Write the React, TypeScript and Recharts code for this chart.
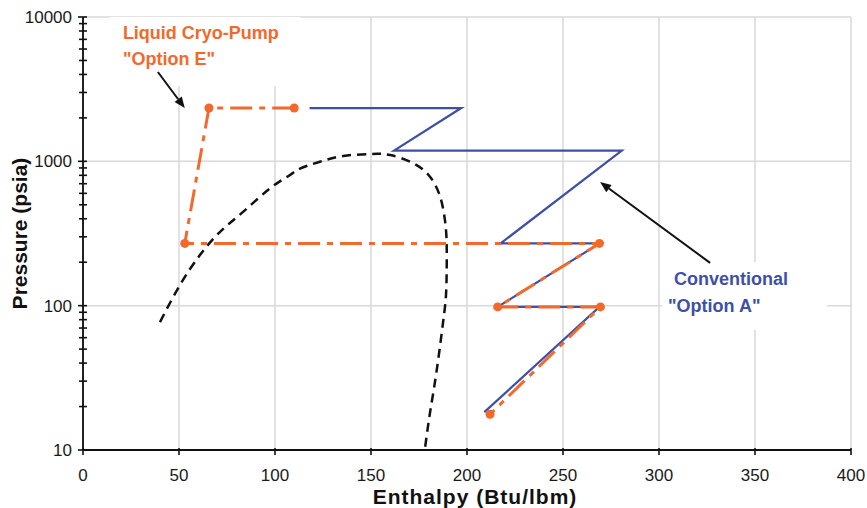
import { LineChart, Line, XAxis, YAxis, CartesianGrid, ReferenceArea, ReferenceLine } from 'recharts';

const BLUE = '#3d50a6';
const ORANGE = '#f2692b';

const enthalpyTicks = [0, 50, 100, 150, 200, 250, 300, 350, 400];
const pressureTicks = [
  10, 20, 30, 40, 50, 60, 70, 80, 90,
  100, 200, 300, 400, 500, 600, 700, 800, 900,
  1000, 2000, 3000, 4000, 5000, 6000, 7000, 8000, 9000, 10000,
];
const pressureLabels = [10, 100, 1000, 10000];

// saturation dome
const saturationDome = [
  { h: 40.1, p: 77 }, { h: 50.5, p: 139 }, { h: 60.9, p: 224 }, { h: 71.4, p: 325 },
  { h: 83.5, p: 448 }, { h: 97.4, p: 650 }, { h: 107.8, p: 804 }, { h: 113, p: 890 },
  { h: 123.4, p: 994 }, { h: 135.6, p: 1089 }, { h: 149.5, p: 1124 }, { h: 160, p: 1106 },
  { h: 172, p: 969 }, { h: 180.7, p: 783 }, { h: 186, p: 569 }, { h: 188.5, p: 392 },
  { h: 189.4, p: 272 }, { h: 189.4, p: 167 }, { h: 189, p: 115 }, { h: 187.5, p: 76 },
  { h: 184, p: 34 }, { h: 180.7, p: 18 }, { h: 178, p: 10 },
];

// Conventional "Option A"
const optionA = [
  { h: 118, p: 2340 }, { h: 197, p: 2340 }, { h: 162, p: 1186 }, { h: 280.6, p: 1186 },
  { h: 217.5, p: 270 }, { h: 269, p: 270 }, { h: 216, p: 98 }, { h: 269, p: 98 },
  { h: 209, p: 18.3 },
];

// Liquid Cryo-Pump "Option E"
const optionE = [
  { h: 110, p: 2340 }, { h: 65.6, p: 2340 }, { h: 53, p: 270 }, { h: 269, p: 270 },
  { h: 216, p: 98 }, { h: 269.5, p: 98 }, { h: 212, p: 17.7 },
];

const pumpArrow = [{ x: 39, y: 4160 }, { x: 53, y: 2340 }];
const conventionalArrow = [{ x: 326.6, y: 198 }, { x: 269.3, y: 719 }];

const pumpNote = ['Liquid Cryo-Pump', '"Option E"'];
const conventionalNote = ['Conventional', '"Option A"'];

const FONT = '"Liberation Sans", Arial, sans-serif';

function renderYTick(props: any) {
  const { x, y, payload } = props;
  const major = pressureLabels.includes(payload.value);
  return (
    <g key={`y-${payload.value}`}>
      <line x1={x - (major ? 5 : 4)} x2={x + 4} y1={y} y2={y} stroke="#111" strokeWidth={1.6} />
      {major && (
        <text x={x - 11} y={y + 6} textAnchor="end" fontSize={17} fill="#1a1a1a" fontFamily={FONT}>
          {payload.value}
        </text>
      )}
    </g>
  );
}

function renderXTick(props: any) {
  const { x, y, payload } = props;
  return (
    <g key={`x-${payload.value}`}>
      <line x1={x} x2={x} y1={y - 2} y2={y + 5} stroke="#111" strokeWidth={1.6} />
      <text x={x} y={y + 31} textAnchor="middle" fontSize={17} fill="#1a1a1a" fontFamily={FONT}>
        {payload.value}
      </text>
    </g>
  );
}

function Arrow(props: any) {
  const { x1, y1, x2, y2 } = props;
  const ang = Math.atan2(y2 - y1, x2 - x1);
  const len = 11;
  const half = 4.5;
  const bx = x2 - len * Math.cos(ang);
  const by = y2 - len * Math.sin(ang);
  const pts = `${x2},${y2} ${bx + half * Math.sin(ang)},${by - half * Math.cos(ang)} ${bx - half * Math.sin(ang)},${by + half * Math.cos(ang)}`;
  return (
    <g>
      <line x1={x1} y1={y1} x2={bx} y2={by} stroke="#111" strokeWidth={2} />
      <polygon points={pts} fill="#111" />
    </g>
  );
}

const noteLabel = (lines: string[], color: string, dx: number[], dy: number, gap: number) =>
  (props: any) => {
    const { x, y } = props.viewBox;
    return (
      <text fill={color} fontSize={18} fontWeight="bold" fontFamily={FONT}>
        {lines.map((l, i) => (
          <tspan key={i} x={x + dx[i]} y={y + dy + i * gap}>{l}</tspan>
        ))}
      </text>
    );
  };

export default function App() {
  return (
    <div style={{ position: 'absolute', left: 0, top: 0, width: 867, height: 508, background: '#fff', fontFamily: FONT }}>
      <LineChart width={867} height={508} margin={{ top: 17, right: 16, bottom: 0, left: 0 }}>
        <CartesianGrid
          stroke="#d9d9d9"
          strokeWidth={1.5}
          horizontalValues={[100, 1000, 10000]}
          verticalValues={[50, 100, 150, 200, 250, 300, 350, 400]}
        />
        <XAxis
          dataKey="h"
          type="number"
          domain={[0, 400]}
          ticks={enthalpyTicks}
          interval={0}
          tickSize={0}
          tickMargin={0}
          tickLine={false}
          tick={renderXTick}
          height={58}
          axisLine={{ stroke: '#111', strokeWidth: 2 }}
          label={(p: any) => (
            <text x={475} y={p.viewBox.y + 54} textAnchor="middle" fontSize={21} fontWeight="bold" letterSpacing={1} fill="#111" fontFamily={FONT}>
              Enthalpy (Btu/lbm)
            </text>
          )}
        />
        <YAxis
          dataKey="p"
          type="number"
          scale="log"
          domain={[10, 10000]}
          allowDataOverflow
          ticks={pressureTicks}
          interval={0}
          tickSize={0}
          tickMargin={0}
          tickLine={false}
          tick={renderYTick}
          width={83}
          axisLine={{ stroke: '#222', strokeWidth: 2 }}
          label={(p: any) => (
            <text
              x={27}
              y={p.viewBox.y + p.viewBox.height / 2}
              transform={`rotate(-90, 27, ${p.viewBox.y + p.viewBox.height / 2})`}
              textAnchor="middle"
              fontSize={21}
              fontWeight="bold"
              fill="#111"
              fontFamily={FONT}
            >
              Pressure (psia)
            </text>
          )}
        />
        <ReferenceArea
          x1={14}
          x2={113}
          y1={3325}
          y2={10000}
          fill="#fff"
          fillOpacity={1}
          stroke="none"
          label={noteLabel(pumpNote, ORANGE, [13, 13], 22, 26)}
        />
        <ReferenceArea
          x1={301.6}
          x2={387.5}
          y1={67.8}
          y2={200.7}
          fill="#fff"
          fillOpacity={1}
          stroke="none"
          label={noteLabel(conventionalNote, BLUE, [12, 6], 23, 27)}
        />
        <Line
          data={saturationDome}
          dataKey="p"
          type="natural"
          stroke="#111"
          strokeWidth={2.5}
          strokeDasharray="9 6"
          dot={false}
          isAnimationActive={false}
        />
        <Line
          data={optionA}
          dataKey="p"
          type="linear"
          stroke={BLUE}
          strokeWidth={2.2}
          dot={false}
          isAnimationActive={false}
        />
        <Line
          data={optionE}
          dataKey="p"
          type="linear"
          stroke={ORANGE}
          strokeWidth={3}
          strokeDasharray="22 7 6 7"
          dot={{ r: 4.5, fill: ORANGE, stroke: ORANGE, strokeWidth: 0, strokeDasharray: '' }}
          isAnimationActive={false}
        />
        <ReferenceLine segment={pumpArrow} shape={Arrow} ifOverflow="visible" />
        <ReferenceLine segment={conventionalArrow} shape={Arrow} ifOverflow="visible" />
      </LineChart>
    </div>
  );
}
